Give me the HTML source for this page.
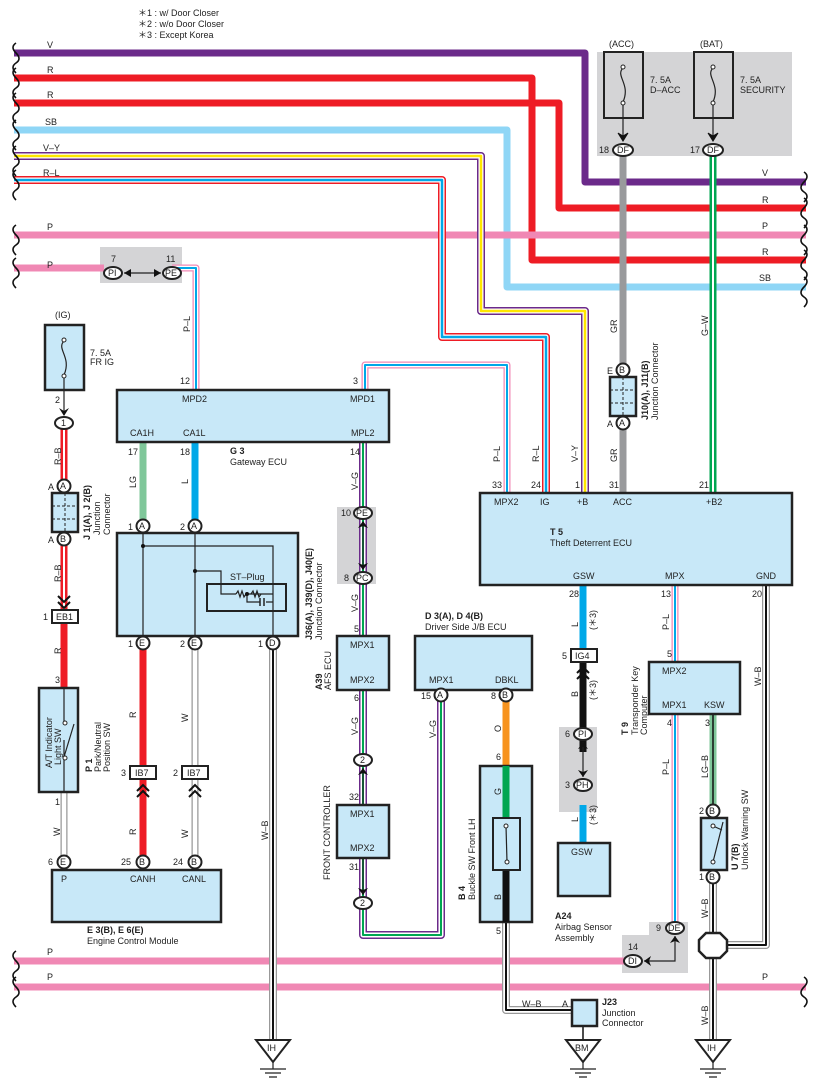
<!DOCTYPE html>
<html><head><meta charset="utf-8"><style>
html,body{margin:0;padding:0;background:#fff}
svg{display:block}
text{font-family:"Liberation Sans",sans-serif;font-size:9px;fill:#222}
.b{font-weight:bold}
.box{fill:#c8e8f8;stroke:#222;stroke-width:2.5}
.con{fill:#fff;stroke:#222;stroke-width:2}
.thin{fill:none;stroke:#222;stroke-width:1.2}
</style></head><body>
<svg width="818" height="1092" viewBox="0 0 818 1092" xmlns="http://www.w3.org/2000/svg">
<defs>
<path id="pVY" d="M14 156H481V311H585V493"/>
<path id="pRL" d="M14 180H442V337H546V493"/>
<path id="pPL1" d="M365 390V365H507V493"/>
<path id="pPL2" d="M172 268H196V390"/>
<path id="pVG" d="M363 442V903V935H441V695"/>
<path id="pRB" d="M64 423V610"/>
<path id="pGW" d="M713 150V493"/>
<path id="pPL3" d="M675 585V928"/>
<path id="pWB1" d="M273 643V1040"/>
<path id="pWB2" d="M766 585V945H713"/>
<path id="pWB3" d="M713 877V1040"/>
<path id="pWB4" d="M506 922V1010H575"/>
<path id="pW1" d="M64 792V862"/>
<path id="pW2" d="M195 643V862"/>
<path id="pLGB" d="M713 714V811"/>
</defs>
<!-- gray boxes -->
<rect x="597" y="52" width="195" height="104" fill="#d4d4d6"/>
<rect x="100" y="247" width="82" height="36" fill="#d4d4d6"/>
<rect x="337" y="507" width="39" height="77" fill="#d4d4d6"/>
<rect x="559" y="727" width="38" height="85" fill="#d4d4d6"/>
<path d="M649 922H688V973H622V935H649Z" fill="#d4d4d6"/>

<!-- thick wires -->
<g fill="none" stroke-linejoin="round">
<path d="M14 53H585V182H806" stroke="#6b2a8a" stroke-width="7"/>
<path d="M14 78H532V260H806" stroke="#ee1c25" stroke-width="7"/>
<path d="M14 103H559V208H806" stroke="#ee1c25" stroke-width="7"/>
<path d="M14 130H507V287H806" stroke="#8fd6f6" stroke-width="7"/>
<path d="M14 235H806" stroke="#f088b4" stroke-width="7"/>
<path d="M14 268H104" stroke="#f088b4" stroke-width="7"/>
<path d="M14 961H633" stroke="#f088b4" stroke-width="7"/>
<path d="M14 987H806" stroke="#f088b4" stroke-width="7"/>
<path d="M623 150V493" stroke="#999a9c" stroke-width="7"/>
<path d="M143 442V526" stroke="#7fc79a" stroke-width="7"/>
<path d="M195 442V526" stroke="#00a8e8" stroke-width="7"/>
<path d="M64 623V688" stroke="#ee1c25" stroke-width="7"/>
<path d="M143 643V862" stroke="#ee1c25" stroke-width="7"/>
<path d="M583 585V650" stroke="#00a8e8" stroke-width="7"/>
<path d="M583 662V752" stroke="#111" stroke-width="7"/>
<path d="M583 805V843" stroke="#00a8e8" stroke-width="7"/>
<path d="M506 695V766" stroke="#f7931e" stroke-width="7"/>
<path d="M506 766V818" stroke="#00a651" stroke-width="7"/>
<path d="M506 870V922" stroke="#111" stroke-width="7"/>
<!-- V-Y -->
<use href="#pVY" stroke="#6b2a8a" stroke-width="8"/><use href="#pVY" stroke="#fff" stroke-width="5"/><use href="#pVY" stroke="#ffe600" stroke-width="2.5"/>
<!-- R-L -->
<use href="#pRL" stroke="#ee1c25" stroke-width="8"/><use href="#pRL" stroke="#fff" stroke-width="5"/><use href="#pRL" stroke="#00a8e8" stroke-width="2.5"/>
<!-- P-L -->
<g stroke-width="7"><use href="#pPL1" stroke="#f088b4"/><use href="#pPL2" stroke="#f088b4"/><use href="#pPL3" stroke="#f088b4"/></g>
<g stroke-width="4.5" stroke="#fff"><use href="#pPL1"/><use href="#pPL2"/><use href="#pPL3"/></g>
<g stroke-width="2" stroke="#00a8e8"><use href="#pPL1"/><use href="#pPL2"/><use href="#pPL3"/></g>
<!-- V-G -->
<use href="#pVG" stroke="#6b2a8a" stroke-width="8"/><use href="#pVG" stroke="#fff" stroke-width="5"/><use href="#pVG" stroke="#00a651" stroke-width="2"/>
<!-- R-B -->
<use href="#pRB" stroke="#ee1c25" stroke-width="7"/><use href="#pRB" stroke="#fff" stroke-width="2"/>
<!-- G-W -->
<use href="#pGW" stroke="#00a651" stroke-width="7"/><use href="#pGW" stroke="#fff" stroke-width="2"/>
<use href="#pLGB" stroke="#7fc79a" stroke-width="7"/><use href="#pLGB" stroke="#111" stroke-width="1.5"/>
<!-- W -->
<g stroke="#999" stroke-width="7"><use href="#pW1"/><use href="#pW2"/></g>
<g stroke="#fff" stroke-width="4.5"><use href="#pW1"/><use href="#pW2"/></g>
<!-- W-B -->
<g stroke="#999" stroke-width="8"><use href="#pWB1"/><use href="#pWB2"/><use href="#pWB3"/><use href="#pWB4"/></g>
<g stroke="#fff" stroke-width="5.5"><use href="#pWB1"/><use href="#pWB2"/><use href="#pWB3"/><use href="#pWB4"/></g>
<g stroke="#111" stroke-width="2"><use href="#pWB1"/><use href="#pWB2"/><use href="#pWB3"/><use href="#pWB4"/></g>
<path d="M583 1026V1040" stroke="#111" stroke-width="1.5"/>
</g>

<!-- braces -->
<g fill="none" stroke="#111" stroke-width="1.6">
<path d="M16 43q-6 4 0 10q6 6 0 10q-6 4 0 10 M16 68q-6 4 0 10q6 6 0 10q-6 4 0 10M16 93q-6 4 0 10q6 6 0 10q-6 4 0 10M16 120q-6 4 0 10q6 6 0 10q-6 4 0 10M16 146q-6 4 0 10q6 6 0 10q-6 4 0 10M16 170q-6 4 0 10q6 6 0 10q-6 4 0 10M16 225q-6 4 0 10q6 6 0 10q-6 4 0 10M16 258q-6 4 0 10q6 6 0 10q-6 4 0 10M16 951q-6 4 0 10q6 6 0 10q-6 4 0 10M16 977q-6 4 0 10q6 6 0 10q-6 4 0 10"/>
<path d="M804 172q6 4 0 10q-6 6 0 10q6 4 0 10M804 198q6 4 0 10q-6 6 0 10q6 4 0 10M804 225q6 4 0 10q-6 6 0 10q6 4 0 10M804 250q6 4 0 10q-6 6 0 10q6 4 0 10M804 277q6 4 0 10q-6 6 0 10q6 4 0 10M804 977q6 4 0 10q-6 6 0 10q6 4 0 10"/>
</g>
<!-- wire labels -->
<text x="47" y="48">V</text><text x="47" y="73">R</text><text x="47" y="98">R</text><text x="45" y="125">SB</text><text x="43" y="151">V–Y</text><text x="43" y="176">R–L</text><text x="47" y="230">P</text><text x="47" y="268">P</text><text x="47" y="276" style="display:none">P</text>
<text x="47" y="276" style="display:none"></text>
<text x="47" y="955">P</text><text x="47" y="980">P</text>
<text x="762" y="176">V</text><text x="762" y="203">R</text><text x="762" y="229">P</text><text x="762" y="255">R</text><text x="759" y="281">SB</text><text x="762" y="980">P</text>
<text x="138" y="16">＊1 : w/ Door Closer</text><text x="138" y="27">＊2 : w/o Door Closer</text><text x="138" y="38">＊3 : Except Korea</text>

<!-- fuses top right -->
<text x="609" y="47">(ACC)</text><text x="700" y="47">(BAT)</text>
<rect x="604" y="52" width="39" height="66" fill="none" stroke="#222" stroke-width="2"/>
<rect x="694" y="52" width="39" height="66" fill="none" stroke="#222" stroke-width="2"/>
<path d="M623 68c-8 8 8 16 0 34M713 68c-8 8 8 16 0 34" class="thin"/>
<circle cx="623" cy="67" r="2" fill="#fff" stroke="#222"/><circle cx="623" cy="103" r="2" fill="#fff" stroke="#222"/>
<circle cx="713" cy="67" r="2" fill="#fff" stroke="#222"/><circle cx="713" cy="103" r="2" fill="#fff" stroke="#222"/>
<path d="M623 105V140M713 105V140" class="thin"/>
<path d="M618 133l5 8l5-8l-5 3zM708 133l5 8l5-8l-5 3z" fill="#111" stroke="#111"/>
<text x="650" y="83">7. 5A</text><text x="650" y="93">D–ACC</text><text x="740" y="83">7. 5A</text><text x="740" y="93">SECURITY</text>
<ellipse cx="623" cy="150" rx="10" ry="6" class="con"/><text x="617" y="153">DF</text><text x="599" y="153">18</text>
<ellipse cx="713" cy="150" rx="10" ry="6" class="con"/><text x="707" y="153">DF</text><text x="690" y="153">17</text>

<!-- PI PE -->
<text x="111" y="262">7</text><text x="166" y="262">11</text>
<ellipse cx="113" cy="273" rx="9" ry="6" class="con"/><text x="108" y="276">PI</text>
<ellipse cx="172" cy="273" rx="9" ry="6" class="con"/><text x="165" y="276">PE</text>
<path d="M124 273H161" class="thin"/><path d="M124 273l7-4v8zM161 273l-7-4v8z" fill="#111"/>
<text transform="translate(190 332) rotate(-90)">P–L</text>

<!-- IG fuse -->
<text x="55" y="318">(IG)</text>
<rect x="45" y="325" width="39" height="65" class="box"/>
<path d="M64 341c-8 8 8 16 0 34" class="thin"/>
<circle cx="64" cy="340" r="2" fill="#fff" stroke="#222"/><circle cx="64" cy="376" r="2" fill="#fff" stroke="#222"/>
<path d="M64 378V415" class="thin"/><path d="M59 408l5 8l5-8l-5 3z" fill="#111"/>
<text x="90" y="356">7. 5A</text><text x="90" y="365">FR IG</text><text x="55" y="403">2</text>
<ellipse cx="64" cy="423" rx="9" ry="6" class="con"/><text x="61" y="426">1</text>
<text transform="translate(61 465) rotate(-90)">R–B</text>
<circle cx="64" cy="486" r="6.5" class="con"/><text x="60" y="489">A</text><text x="48" y="490">A</text>
<rect x="52" y="493" width="26" height="39" class="box"/>
<path d="M65 493V532M52 506H78M52 519H78" stroke="#222" stroke-width="1" stroke-dasharray="3 2"/>
<circle cx="64" cy="539" r="6.5" class="con"/><text x="60" y="542">B</text><text x="48" y="543">A</text>
<text class="b" transform="translate(90 540) rotate(-90)">J 1(A), J 2(B)</text>
<text transform="translate(100 535) rotate(-90)">Junction</text><text transform="translate(110 535) rotate(-90)">Connector</text>
<text transform="translate(61 582) rotate(-90)">R–B</text>
<path d="M58 596l6 6l6-6M58 602l6 6l6-6" fill="none" stroke="#111" stroke-width="2"/>
<rect x="52" y="610" width="26" height="13" fill="#fff" stroke="#222" stroke-width="2"/><text x="56" y="620">EB1</text><text x="43" y="620">1</text>
<text transform="translate(61 654) rotate(-90)">R</text><text x="55" y="683">3</text>
<rect x="39" y="688" width="39" height="104" class="box"/>
<path d="M64 688V722M64 740V792" class="thin"/><path d="M64 757L74 724" class="thin"/>
<circle cx="65" cy="723" r="2" fill="#fff" stroke="#222"/><circle cx="65" cy="758" r="2" fill="#fff" stroke="#222"/>
<text transform="translate(52 768) rotate(-90)">A/T Indicator</text><text transform="translate(61 765) rotate(-90)">Light SW</text>
<text class="b" transform="translate(92 772) rotate(-90)">P 1</text>
<text transform="translate(101 772) rotate(-90)">Park/Neutral</text><text transform="translate(110 772) rotate(-90)">Position SW</text>
<text x="55" y="805">1</text><text transform="translate(60 836) rotate(-90)">W</text>
<circle cx="64" cy="862" r="6.5" class="con"/><text x="60" y="865">E</text><text x="48" y="865">6</text>

<!-- E3 ECM -->
<rect x="52" y="870" width="169" height="52" class="box"/>
<text x="61" y="882">P</text><text x="130" y="882">CANH</text><text x="182" y="882">CANL</text>
<text class="b" x="87" y="933">E 3(B), E 6(E)</text><text x="87" y="944">Engine Control Module</text>
<circle cx="143" cy="862" r="6.5" class="con"/><text x="139" y="865">B</text><text x="121" y="865">25</text>
<circle cx="195" cy="862" r="6.5" class="con"/><text x="191" y="865">B</text><text x="173" y="865">24</text>

<!-- G3 -->
<rect x="117" y="390" width="272" height="52" class="box"/>
<text x="182" y="402">MPD2</text><text x="350" y="402">MPD1</text><text x="130" y="436">CA1H</text><text x="183" y="436">CA1L</text><text x="351" y="436">MPL2</text>
<text x="180" y="384">12</text><text x="353" y="384">3</text><text x="128" y="455">17</text><text x="180" y="455">18</text><text x="350" y="455">14</text>
<text class="b" x="230" y="454">G 3</text><text x="230" y="465">Gateway ECU</text>
<text transform="translate(136 488) rotate(-90)">LG</text><text transform="translate(188 484) rotate(-90)">L</text>
<text transform="translate(358 490) rotate(-90)">V–G</text>
<circle cx="143" cy="526" r="6.5" class="con"/><text x="139" y="529">A</text><text x="128" y="530">1</text>
<circle cx="195" cy="526" r="6.5" class="con"/><text x="191" y="529">A</text><text x="180" y="530">2</text>

<!-- J36 -->
<rect x="117" y="533" width="181" height="103" class="box"/>
<path d="M143 533V636M195 533V636M143 546H273V636M195 571H221V594H236M247 594H273M247 594V602H260M266 602H273" class="thin"/>
<path d="M236 594l2-3l2 6l2-6l2 6l2-3M251 594l2-3l2 6l2-6l2 6l2-3" class="thin"/>
<path d="M260 598V606M264 598V606" stroke="#222" stroke-width="1.5"/>
<circle cx="143" cy="546" r="2" fill="#111"/><circle cx="195" cy="571" r="2" fill="#111"/><circle cx="247" cy="594" r="2" fill="#111"/>
<rect x="207" y="584" width="79" height="27" fill="none" stroke="#222" stroke-width="2"/>
<text x="230" y="580">ST–Plug</text>
<circle cx="143" cy="643" r="6.5" class="con"/><text x="139" y="646">E</text><text x="128" y="647">1</text>
<circle cx="195" cy="643" r="6.5" class="con"/><text x="191" y="646">E</text><text x="180" y="647">2</text>
<circle cx="273" cy="643" r="6.5" class="con"/><text x="269" y="646">D</text><text x="258" y="647">1</text>
<text class="b" transform="translate(312 640) rotate(-90)">J36(A), J39(D), J40(E)</text>
<text transform="translate(322 640) rotate(-90)">Junction Connector</text>
<text transform="translate(136 718) rotate(-90)">R</text><text transform="translate(188 722) rotate(-90)">W</text>
<text transform="translate(136 835) rotate(-90)">R</text><text transform="translate(188 838) rotate(-90)">W</text>
<rect x="130" y="766" width="26" height="13" fill="#fff" stroke="#222" stroke-width="2"/><text x="135" y="776">IB7</text><text x="121" y="776">3</text>
<rect x="182" y="766" width="26" height="13" fill="#fff" stroke="#222" stroke-width="2"/><text x="187" y="776">IB7</text><text x="173" y="776">2</text>
<path d="M137 791l6-6l6 6M137 797l6-6l6 6M189 791l6-6l6 6M189 797l6-6l6 6" fill="none" stroke="#111" stroke-width="2"/>
<text transform="translate(268 840) rotate(-90)">W–B</text>

<!-- grounds -->
<g>
<path d="M256 1040H290L273 1062Z" fill="#fff" stroke="#222" stroke-width="2"/><text x="267" y="1051">IH</text>
<path d="M260 1069H286M265 1073H281M269 1077H277M273 1062V1069" class="thin"/>
<path d="M566 1040H600L583 1062Z" fill="#fff" stroke="#222" stroke-width="2"/><text x="575" y="1051">BM</text>
<path d="M570 1069H596M575 1073H591M579 1077H587M583 1062V1069" class="thin"/>
<path d="M696 1040H730L713 1062Z" fill="#fff" stroke="#222" stroke-width="2"/><text x="707" y="1051">IH</text>
<path d="M700 1069H726M705 1073H721M709 1077H717M713 1062V1069" class="thin"/>
</g>

<!-- PE PC gray -->
<ellipse cx="363" cy="513" rx="9" ry="6" class="con"/><text x="356" y="516">PE</text><text x="341" y="516">10</text>
<ellipse cx="363" cy="578" rx="9" ry="6" class="con"/><text x="356" y="581">PC</text><text x="344" y="581">8</text>
<path d="M363 522V569" class="thin"/><path d="M358 528l5-7l5 7l-5-2zM358 563l5 7l5-7l-5 2z" fill="#111"/>
<text transform="translate(358 612) rotate(-90)">V–G</text><text x="354" y="632">5</text>
<rect x="337" y="636" width="52" height="54" class="box"/><text x="350" y="648">MPX1</text><text x="350" y="683">MPX2</text>
<text class="b" transform="translate(322 690) rotate(-90)">A39</text><text transform="translate(331 690) rotate(-90)">AFS ECU</text>
<text x="354" y="701">6</text><text transform="translate(358 735) rotate(-90)">V–G</text>
<ellipse cx="363" cy="760" rx="9" ry="6" class="con"/><text x="360" y="763">2</text>
<path d="M363 768V805" class="thin"/><path d="M358 775l5-7l5 7l-5-2z" fill="#111"/>
<text x="349" y="800">32</text>
<rect x="337" y="805" width="52" height="53" class="box"/><text x="350" y="817">MPX1</text><text x="350" y="851">MPX2</text>
<text transform="translate(330 880) rotate(-90)">FRONT CONTROLLER</text>
<text x="349" y="870">31</text>
<path d="M363 858V895" class="thin"/><path d="M358 888l5 7l5-7l-5 2z" fill="#111"/>
<ellipse cx="363" cy="903" rx="9" ry="6" class="con"/><text x="360" y="906">2</text>

<!-- D3 -->
<text class="b" x="425" y="619">D 3(A), D 4(B)</text><text x="425" y="630">Driver Side J/B ECU</text>
<rect x="415" y="636" width="117" height="54" class="box"/><text x="429" y="683">MPX1</text><text x="495" y="683">DBKL</text>
<circle cx="441" cy="695" r="6.5" class="con"/><text x="437" y="698">A</text><text x="421" y="699">15</text>
<circle cx="506" cy="695" r="6.5" class="con"/><text x="502" y="698">B</text><text x="491" y="699">8</text>
<text transform="translate(436 738) rotate(-90)">V–G</text><text transform="translate(501 732) rotate(-90)">O</text>

<!-- B4 -->
<text x="496" y="760">6</text>
<rect x="480" y="766" width="52" height="156" class="box"/>
<path d="M506 766V818" stroke="#00a651" stroke-width="7"/><path d="M506 870V922" stroke="#111" stroke-width="7"/>
<rect x="493" y="818" width="27" height="52" fill="#c8e8f8" stroke="#222" stroke-width="2"/>
<path d="M506 826L507 862" class="thin"/>
<circle cx="506" cy="826" r="2" fill="#fff" stroke="#222"/><circle cx="507" cy="862" r="2" fill="#fff" stroke="#222"/>
<text transform="translate(501 795) rotate(-90)">G</text><text transform="translate(501 900) rotate(-90)">B</text>
<text class="b" transform="translate(465 900) rotate(-90)">B 4</text><text transform="translate(475 900) rotate(-90)">Buckle SW Front LH</text>
<text x="496" y="934">5</text><text x="522" y="1007">W–B</text><text x="562" y="1007">A</text>
<rect x="572" y="1000" width="25" height="26" class="box"/>
<text class="b" x="602" y="1005">J23</text><text x="602" y="1016">Junction</text><text x="602" y="1026">Connector</text>

<!-- T5 -->
<rect x="480" y="493" width="312" height="92" class="box"/>
<text x="494" y="505">MPX2</text><text x="540" y="505">IG</text><text x="577" y="505">+B</text><text x="613" y="505">ACC</text><text x="706" y="505">+B2</text>
<text class="b" x="550" y="535">T 5</text><text x="550" y="546">Theft Deterrent ECU</text>
<text x="573" y="579">GSW</text><text x="665" y="579">MPX</text><text x="756" y="579">GND</text>
<text x="492" y="488">33</text><text x="531" y="488">24</text><text x="575" y="488">1</text><text x="609" y="488">31</text><text x="699" y="488">21</text>
<text transform="translate(500 462) rotate(-90)">P–L</text><text transform="translate(539 462) rotate(-90)">R–L</text><text transform="translate(578 462) rotate(-90)">V–Y</text>
<text transform="translate(617 462) rotate(-90)">GR</text><text transform="translate(617 333) rotate(-90)">GR</text><text transform="translate(708 336) rotate(-90)">G–W</text>
<circle cx="623" cy="370" r="6.5" class="con"/><text x="619" y="373">B</text><text x="607" y="374">E</text>
<rect x="610" y="377" width="26" height="39" class="box"/>
<path d="M623 377V416M610 390H636M610 403H636" stroke="#222" stroke-width="1" stroke-dasharray="3 2"/>
<circle cx="623" cy="423" r="6.5" class="con"/><text x="619" y="426">A</text><text x="607" y="427">A</text>
<text class="b" transform="translate(648 420) rotate(-90)">J10(A), J11(B)</text><text transform="translate(658 420) rotate(-90)">Junction Connector</text>
<text x="569" y="597">28</text><text x="661" y="597">13</text><text x="752" y="597">20</text>
<text transform="translate(578 627) rotate(-90)">L</text><text transform="translate(596 630) rotate(-90)">(＊3)</text>
<text transform="translate(669 630) rotate(-90)">P–L</text><text transform="translate(761 686) rotate(-90)">W–B</text>
<rect x="571" y="649" width="26" height="13" fill="#fff" stroke="#222" stroke-width="2"/><text x="575" y="659">IG4</text><text x="562" y="659">5</text>
<path d="M577 673l6-6l6 6M577 679l6-6l6 6" fill="none" stroke="#111" stroke-width="2"/>
<text transform="translate(578 697) rotate(-90)">B</text><text transform="translate(596 700) rotate(-90)">(＊3)</text>
<ellipse cx="583" cy="734" rx="9" ry="6" class="con"/><text x="578" y="737">PI</text><text x="565" y="737">6</text>
<ellipse cx="583" cy="785" rx="9" ry="6" class="con"/><text x="576" y="788">PH</text><text x="565" y="788">3</text>
<path d="M583 742V777" class="thin"/><path d="M578 749l5-7l5 7l-5-2zM578 770l5 7l5-7l-5 2z" fill="#111"/>
<text transform="translate(578 822) rotate(-90)">L</text><text transform="translate(596 825) rotate(-90)">(＊3)</text>
<text x="569" y="851">18</text>
<rect x="558" y="857" width="52" height="53" class="box" transform="translate(0 -14)"/><text x="571" y="855" >GSW</text>
<text class="b" x="555" y="919">A24</text><text x="555" y="930">Airbag Sensor</text><text x="555" y="941">Assembly</text>

<!-- T9 -->
<text x="667" y="657">5</text>
<rect x="649" y="662" width="91" height="52" class="box"/><text x="662" y="674">MPX2</text><text x="662" y="708">MPX1</text><text x="704" y="708">KSW</text>
<text class="b" transform="translate(628 735) rotate(-90)">T 9</text><text transform="translate(638 735) rotate(-90)">Transponder Key</text><text transform="translate(647 735) rotate(-90)">Computer</text>
<text x="667" y="726">4</text><text x="705" y="726">3</text>
<text transform="translate(669 775) rotate(-90)">P–L</text><text transform="translate(708 778) rotate(-90)">LG–B</text>
<circle cx="713" cy="811" r="6.5" class="con"/><text x="709" y="814">B</text><text x="699" y="814">2</text>
<rect x="701" y="818" width="26" height="52" class="box"/>
<path d="M713 826L722 830M713 862L723 822" class="thin"/>
<circle cx="713" cy="826" r="2" fill="#fff" stroke="#222"/><circle cx="713" cy="862" r="2" fill="#fff" stroke="#222"/>
<circle cx="713" cy="877" r="6.5" class="con"/><text x="709" y="880">B</text><text x="699" y="880">1</text>
<text class="b" transform="translate(738 870) rotate(-90)">U 7(B)</text><text transform="translate(748 870) rotate(-90)">Unlock Warning SW</text>
<text transform="translate(708 918) rotate(-90)">W–B</text><text transform="translate(708 1025) rotate(-90)">W–B</text>
<path d="M706 933H720L727 940V951L720 958H706L699 951V940Z" fill="#fff" stroke="#222" stroke-width="2.5"/>
<!-- DE DI -->
<ellipse cx="675" cy="928" rx="9" ry="6" class="con"/><text x="668" y="931">DE</text><text x="656" y="931">9</text>
<ellipse cx="633" cy="961" rx="9" ry="6" class="con"/><text x="628" y="964">DI</text><text x="628" y="950">14</text>
<path d="M675 936V961H644" class="thin"/><path d="M670 943l5-7l5 7l-5-2zM651 956l-7 5l7 5l-2-5z" fill="#111"/>
</svg>
</body></html>
